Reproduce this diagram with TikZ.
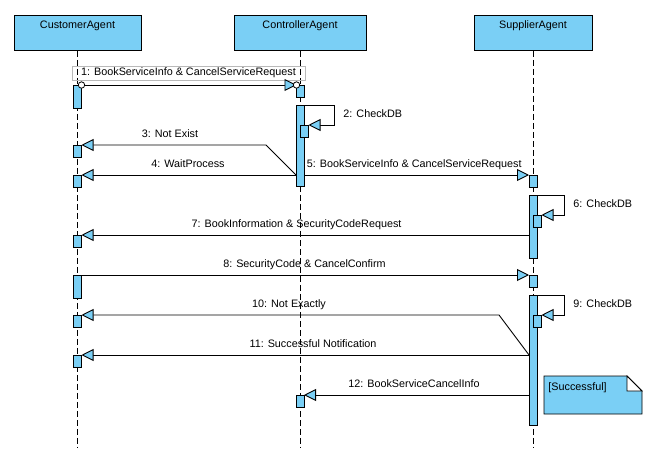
\documentclass[tikz,border=0pt]{standalone}
\usepackage{fontspec}
\setmainfont{Liberation Sans}
\usetikzlibrary{arrows.meta,calc}
\definecolor{lblue}{RGB}{122,207,245}
\begin{document}
\begin{tikzpicture}[x=1pt,y=-1pt,
  every node/.style={font=\fontsize{10.8}{12}\selectfont},
  line width=0.9pt,
  head/.style={draw, fill=lblue, minimum width=#1, minimum height=35pt, anchor=north, inner sep=0pt},
  headtext/.style={anchor=north, inner sep=0pt, yshift=-5.5pt},
  actbox/.style={draw, fill=lblue, minimum width=8pt, minimum height=#1, anchor=north, inner sep=0pt, outer sep=0pt},
  life/.style={dash pattern=on 6pt off 3pt, line width=0.8pt},
  msg/.style={-{Triangle[length=12pt,width=12pt,fill=lblue]}, line width=0.9pt},
  lab/.style={anchor=base, inner sep=0pt},
  endcirc/.style={draw, fill=white, line width=0.8pt}]
\useasboundingbox (0,0) rectangle (666,448);

% heads
\node[head=127pt, label={[headtext]north:CustomerAgent}] (hC) at (77.5,15) {};
\node[head=132pt, label={[headtext]north:ControllerAgent}] (hK) at (300,15) {};
\node[head=118pt, label={[headtext]north:SupplierAgent}] (hS) at (533,15) {};

% lifelines
\draw[life] (hC.south) -- (hC.south |- 0,448);
\draw[life] (hK.south) -- (hK.south |- 0,448);
\draw[life] (hS.south) -- (hS.south |- 0,448);

% activation boxes
\node[actbox=23pt] (cA1) at (77.5,85) {};
\node[actbox=12pt] (c3) at (77.5,145) {};
\node[actbox=12pt] (c4) at (77.5,175) {};
\node[actbox=12pt] (c7) at (77.5,235) {};
\node[actbox=23pt] (cA8) at (77.5,275) {};
\node[actbox=12pt] (c10) at (77.5,315) {};
\node[actbox=12pt] (c11) at (77.5,355) {};

\node[actbox=12pt] (k1) at (300.5,85) {};
\node[actbox=81pt] (kA) at (300,105) {};
\node[actbox=12pt] (k2) at (304.5,125) {};
\node[actbox=12pt] (k12) at (300,395) {};

\node[actbox=12pt] (s5) at (533,175) {};
\node[actbox=63pt] (sA6) at (533,195) {};
\node[actbox=12pt] (s6) at (537.5,215) {};
\node[actbox=12pt] (s8) at (533,275) {};
\node[actbox=130pt] (sA9) at (533,295) {};
\node[actbox=12pt] (s9) at (537.5,315) {};

% messages
\node[draw=gray!55, line width=0.8pt, minimum width=233pt, minimum height=14pt, inner sep=0pt] (l1) at (188.5,73) {1: BookServiceInfo \& CancelServiceRequest};
\draw[msg] (cA1.north east) -- (k1.north west);
\draw[endcirc] (cA1.north east) circle[radius=3.2pt];
\draw[endcirc] (k1.north west) circle[radius=3.2pt];

\draw[msg] (kA.north east) -| ([xshift=26pt]k2.north east) -- (k2.north east);
\node[lab, anchor=base west] (l2) at (343,117) {2: CheckDB};

\draw[msg] (kA.west |- c4.north) -- ([xshift=-30pt]kA.west |- c3.north) -- (c3.north east);
\node[lab] (l3) at (170,137) {3: Not Exist};

\draw[msg] (kA.west |- c4.north) -- (c4.north east);
\node[lab] (l4) at (188,167) {4: WaitProcess};

\draw[msg] (kA.east |- s5.north) -- (s5.north west);
\node[lab, anchor=base west] (l5) at (306.5,167) {5: BookServiceInfo \& CancelServiceRequest};

\draw[msg] (sA6.north east) -| ([xshift=22.5pt]s6.north east) -- (s6.north east);
\node[lab, anchor=base west] (l6) at (573,207) {6: CheckDB};

\draw[msg] (sA6.west |- c7.north) -- (c7.north east);
\node[lab] (l7) at (296.5,227) {7: BookInformation \& SecurityCodeRequest};

\draw[msg] (cA8.north east) -- (s8.north west);
\node[lab] (l8) at (304.5,267) {8: SecurityCode \& CancelConfirm};

\draw[msg] (sA9.north east) -| ([xshift=22.5pt]s9.north east) -- (s9.north east);
\node[lab, anchor=base west] (l9) at (573,307) {9: CheckDB};

\draw[msg] (sA9.west |- c11.north) -- ([xshift=-30pt]sA9.west |- c10.north) -- (c10.north east);
\node[lab] (l10) at (289,307) {10: Not Exactly};

\draw[msg] (sA9.west |- c11.north) -- (c11.north east);
\node[lab] (l11) at (313,347) {11: Successful Notification};

\draw[msg] (sA9.west |- k12.north) -- (k12.north east);
\node[lab] (l12) at (414,387) {12: BookServiceCancelInfo};

% note
\draw[fill=lblue, line width=0.8pt] (544,376) -- (627,376) -- (642,391) -- (642,414) -- (544,414) -- cycle;
\draw[fill=white, line width=0.8pt] (627,376) -- (642,391) -- (627,391) -- cycle;
\node[lab, anchor=base west] (note) at (548,390) {[Successful]};
\end{tikzpicture}
\end{document}
